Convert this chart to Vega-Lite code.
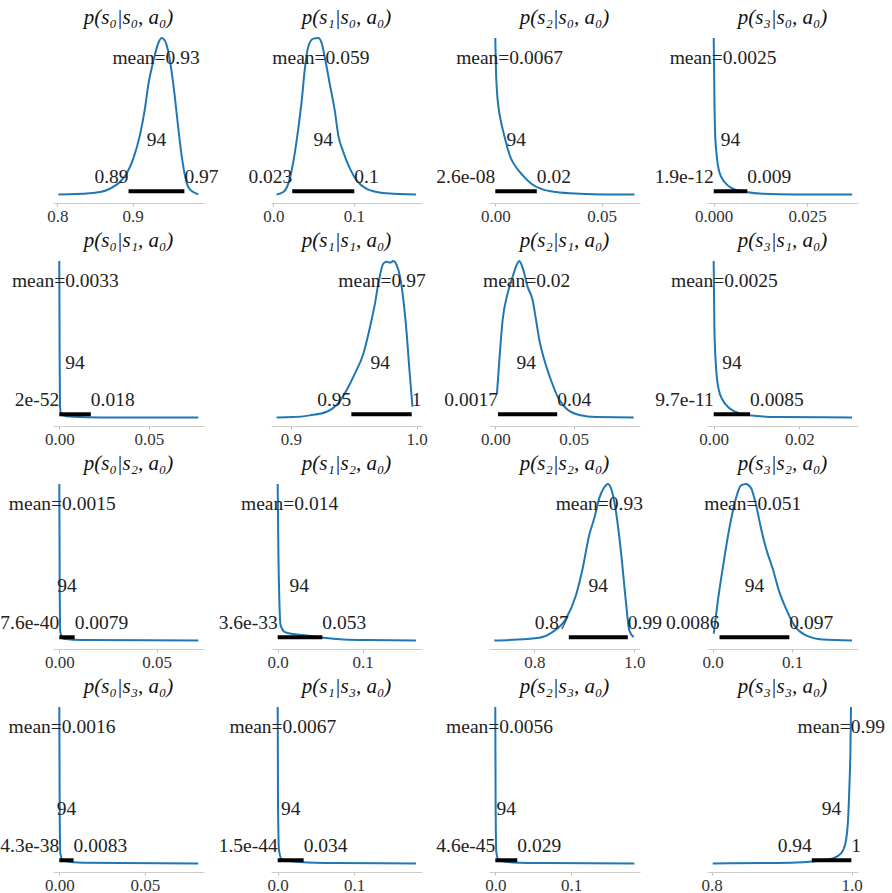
{
"$schema":"https://vega.github.io/schema/vega-lite/v6.json",
"background":"white",
"padding":{"left":0,"top":7,"right":2,"bottom":2},
"columns":4,
"spacing":{"row":58,"column":67},
"bounds":"flush",
"config":{
 "view":{"stroke":null},
 "axis":{"domainColor":"#cccccc","tickColor":"#bbbbbb","tickSize":3,"labelPadding":2,"labelFont":"Liberation Serif","labelFontSize":17,"labelColor":"#333333","grid":false},
 "title":{"font":"Liberation Serif","fontSize":21,"fontStyle":"italic","fontWeight":"normal","color":"#111111","offset":6},
 "text":{"font":"Liberation Serif","fontSize":19.5,"color":"#222222"},
 "line":{"color":"#1f77b4","strokeWidth":2,"interpolate":"monotone"},
 "rule":{"color":"black","strokeWidth":4}
},
"datasets":{
 "curves":[
  {"p":"00","x":0.8013,"y":0},{"p":"00","x":0.8256,"y":0.002},{"p":"00","x":0.8566,"y":0.015},{"p":"00","x":0.8698,"y":0.036},{"p":"00","x":0.8831,"y":0.079},{"p":"00","x":0.892,"y":0.133},{"p":"00","x":0.9008,"y":0.229},{"p":"00","x":0.9096,"y":0.379},{"p":"00","x":0.9163,"y":0.55},{"p":"00","x":0.9207,"y":0.7},{"p":"00","x":0.9273,"y":0.85},{"p":"00","x":0.934,"y":0.968},{"p":"00","x":0.9384,"y":1.0},{"p":"00","x":0.9428,"y":0.983},{"p":"00","x":0.9472,"y":0.914},{"p":"00","x":0.9516,"y":0.786},{"p":"00","x":0.9561,"y":0.615},{"p":"00","x":0.9605,"y":0.422},{"p":"00","x":0.9649,"y":0.25},{"p":"00","x":0.9693,"y":0.122},{"p":"00","x":0.9737,"y":0.047},{"p":"00","x":0.9804,"y":0.015},{"p":"00","x":0.987,"y":0},
  {"p":"01","x":0.0041,"y":0},{"p":"01","x":0.0124,"y":0.015},{"p":"01","x":0.0186,"y":0.069},{"p":"01","x":0.0248,"y":0.208},{"p":"01","x":0.031,"y":0.422},{"p":"01","x":0.0351,"y":0.593},{"p":"01","x":0.0392,"y":0.807},{"p":"01","x":0.0434,"y":0.946},{"p":"01","x":0.0496,"y":0.996},{"p":"01","x":0.0558,"y":1.0},{"p":"01","x":0.0599,"y":0.968},{"p":"01","x":0.064,"y":0.872},{"p":"01","x":0.0702,"y":0.7},{"p":"01","x":0.0764,"y":0.529},{"p":"01","x":0.0805,"y":0.379},{"p":"01","x":0.0867,"y":0.272},{"p":"01","x":0.095,"y":0.165},{"p":"01","x":0.1033,"y":0.09},{"p":"01","x":0.1157,"y":0.036},{"p":"01","x":0.1363,"y":0.009},{"p":"01","x":0.157,"y":0.002},{"p":"01","x":0.1768,"y":0},
  {"p":"02","x":0,"y":1},{"p":"02","x":0.0003,"y":0.804},{"p":"02","x":0.0008,"y":0.655},{"p":"02","x":0.0016,"y":0.548},{"p":"02","x":0.0027,"y":0.463},{"p":"02","x":0.0042,"y":0.377},{"p":"02","x":0.0058,"y":0.292},{"p":"02","x":0.0074,"y":0.228},{"p":"02","x":0.0097,"y":0.175},{"p":"02","x":0.0129,"y":0.122},{"p":"02","x":0.0176,"y":0.062},{"p":"02","x":0.0223,"y":0.032},{"p":"02","x":0.0285,"y":0.015},{"p":"02","x":0.0395,"y":0.004},{"p":"02","x":0.052,"y":0},{"p":"02","x":0.0654,"y":0},
  {"p":"03","x":0,"y":1},{"p":"03","x":0.0002,"y":0.59},{"p":"03","x":0.0004,"y":0.377},{"p":"03","x":0.0008,"y":0.249},{"p":"03","x":0.0015,"y":0.143},{"p":"03","x":0.0029,"y":0.079},{"p":"03","x":0.0051,"y":0.036},{"p":"03","x":0.0087,"y":0.015},{"p":"03","x":0.0131,"y":0.004},{"p":"03","x":0.022,"y":0},{"p":"03","x":0.0371,"y":0},
  {"p":"10","x":0,"y":1},{"p":"10","x":0.0002,"y":0.366},{"p":"10","x":0.0004,"y":0.068},{"p":"10","x":0.0013,"y":0.015},{"p":"10","x":0.0078,"y":0.004},{"p":"10","x":0.0227,"y":0},{"p":"10","x":0.0775,"y":0},
  {"p":"11","x":0.8886,"y":0},{"p":"11","x":0.9019,"y":0.002},{"p":"11","x":0.9151,"y":0.013},{"p":"11","x":0.9284,"y":0.036},{"p":"11","x":0.9363,"y":0.079},{"p":"11","x":0.9443,"y":0.175},{"p":"11","x":0.9509,"y":0.281},{"p":"11","x":0.9576,"y":0.409},{"p":"11","x":0.9629,"y":0.58},{"p":"11","x":0.9668,"y":0.729},{"p":"11","x":0.9695,"y":0.857},{"p":"11","x":0.9735,"y":0.985},{"p":"11","x":0.9761,"y":0.996},{"p":"11","x":0.9788,"y":0.989},{"p":"11","x":0.9814,"y":1.0},{"p":"11","x":0.9841,"y":0.974},{"p":"11","x":0.9867,"y":0.9},{"p":"11","x":0.9894,"y":0.75},{"p":"11","x":0.992,"y":0.537},{"p":"11","x":0.9942,"y":0.303},{"p":"11","x":0.9966,"y":0.068},
  {"p":"12","x":0.0011,"y":0.154},{"p":"12","x":0.0026,"y":0.367},{"p":"12","x":0.0047,"y":0.623},{"p":"12","x":0.0079,"y":0.793},{"p":"12","x":0.0111,"y":0.9},{"p":"12","x":0.0136,"y":0.974},{"p":"12","x":0.0153,"y":1.0},{"p":"12","x":0.0179,"y":0.942},{"p":"12","x":0.0206,"y":0.836},{"p":"12","x":0.0238,"y":0.751},{"p":"12","x":0.026,"y":0.623},{"p":"12","x":0.0281,"y":0.495},{"p":"12","x":0.0313,"y":0.367},{"p":"12","x":0.0355,"y":0.239},{"p":"12","x":0.0398,"y":0.132},{"p":"12","x":0.0451,"y":0.058},{"p":"12","x":0.0536,"y":0.015},{"p":"12","x":0.0643,"y":0.002},{"p":"12","x":0.0883,"y":0},
  {"p":"13","x":0,"y":1},{"p":"13","x":0.00016,"y":0.58},{"p":"13","x":0.00054,"y":0.324},{"p":"13","x":0.0012,"y":0.175},{"p":"13","x":0.0021,"y":0.111},{"p":"13","x":0.0037,"y":0.058},{"p":"13","x":0.006,"y":0.026},{"p":"13","x":0.0099,"y":0.009},{"p":"13","x":0.0153,"y":0.002},{"p":"13","x":0.0323,"y":0},
  {"p":"20","x":0,"y":1},{"p":"20","x":0.0002,"y":0.35},{"p":"20","x":0.0005,"y":0.053},{"p":"20","x":0.0021,"y":0.011},{"p":"20","x":0.0123,"y":0.002},{"p":"20","x":0.0714,"y":0},
  {"p":"21","x":0,"y":1},{"p":"21","x":0.0008,"y":0.566},{"p":"21","x":0.002,"y":0.246},{"p":"21","x":0.0035,"y":0.096},{"p":"21","x":0.0086,"y":0.053},{"p":"21","x":0.0184,"y":0.041},{"p":"21","x":0.0341,"y":0.032},{"p":"21","x":0.0537,"y":0.017},{"p":"21","x":0.0773,"y":0.006},{"p":"21","x":0.1047,"y":0.002},{"p":"21","x":0.1627,"y":0},
  {"p":"22","x":0.72,"y":0},{"p":"22","x":0.7567,"y":0.004},{"p":"22","x":0.81,"y":0.017},{"p":"22","x":0.8367,"y":0.054},{"p":"22","x":0.8633,"y":0.139},{"p":"22","x":0.8833,"y":0.289},{"p":"22","x":0.8967,"y":0.46},{"p":"22","x":0.91,"y":0.675},{"p":"22","x":0.92,"y":0.782},{"p":"22","x":0.93,"y":0.91},{"p":"22","x":0.94,"y":0.979},{"p":"22","x":0.9467,"y":1.0},{"p":"22","x":0.9533,"y":0.974},{"p":"22","x":0.9633,"y":0.824},{"p":"22","x":0.9733,"y":0.567},{"p":"22","x":0.9833,"y":0.246},{"p":"22","x":0.99,"y":0.064},{"p":"22","x":0.9987,"y":0.021},
  {"p":"23","x":0.0013,"y":0.043},{"p":"23","x":0.0063,"y":0.246},{"p":"23","x":0.0126,"y":0.46},{"p":"23","x":0.021,"y":0.717},{"p":"23","x":0.0294,"y":0.91},{"p":"23","x":0.0357,"y":0.991},{"p":"23","x":0.042,"y":1.0},{"p":"23","x":0.0483,"y":0.974},{"p":"23","x":0.0546,"y":0.867},{"p":"23","x":0.0609,"y":0.717},{"p":"23","x":0.0672,"y":0.589},{"p":"23","x":0.0756,"y":0.46},{"p":"23","x":0.084,"y":0.31},{"p":"23","x":0.0924,"y":0.203},{"p":"23","x":0.1029,"y":0.096},{"p":"23","x":0.1176,"y":0.032},{"p":"23","x":0.1387,"y":0.006},{"p":"23","x":0.1756,"y":0},
  {"p":"30","x":0,"y":1},{"p":"30","x":0.0002,"y":0.385},{"p":"30","x":0.0006,"y":0.064},{"p":"30","x":0.0023,"y":0.017},{"p":"30","x":0.014,"y":0.004},{"p":"30","x":0.0811,"y":0},
  {"p":"31","x":0,"y":1},{"p":"31","x":0.0004,"y":0.385},{"p":"31","x":0.0017,"y":0.085},{"p":"31","x":0.0052,"y":0.026},{"p":"31","x":0.0293,"y":0.009},{"p":"31","x":0.0729,"y":0.002},{"p":"31","x":0.1812,"y":0},
  {"p":"32","x":0,"y":1},{"p":"32","x":0.0004,"y":0.385},{"p":"32","x":0.0013,"y":0.075},{"p":"32","x":0.0044,"y":0.021},{"p":"32","x":0.0229,"y":0.006},{"p":"32","x":0.067,"y":0.002},{"p":"32","x":0.1837,"y":0},
  {"p":"33","x":0.8014,"y":0},{"p":"33","x":0.8729,"y":0.002},{"p":"33","x":0.9205,"y":0.006},{"p":"33","x":0.9538,"y":0.017},{"p":"33","x":0.9729,"y":0.032},{"p":"33","x":0.9848,"y":0.064},{"p":"33","x":0.991,"y":0.128},{"p":"33","x":0.9948,"y":0.278},{"p":"33","x":0.9967,"y":0.491},{"p":"33","x":0.9981,"y":0.705},{"p":"33","x":0.999,"y":1.0}
 ]
},
"concat":[
 {"title":"p(s₀|s₀, a₀)","width":151,"height":165,"data":{"values":[{"mean":0.931,"ml":"mean=0.93","lo":0.8945,"hi":0.9686,"lt":"0.89","ht":"0.97","mid":0.9316}]},"layer":[
  {"data":{"name":"curves"},"transform":[{"filter":"datum.p==='00'"}],"mark":"line","encoding":{"x":{"field":"x","type":"quantitative","scale":{"domain":[0.7943,0.9946],"nice":false,"zero":false},"axis":{"values":[0.8,0.9],"format":".1f","title":null}},"y":{"field":"y","type":"quantitative","scale":{"domain":[-0.055,1],"nice":false,"zero":false},"axis":null}}},
  {"mark":"rule","encoding":{"x":{"field":"lo","type":"quantitative"},"x2":{"field":"hi"},"y":{"datum":0.02}}},
  {"mark":{"type":"text","baseline":"middle"},"encoding":{"x":{"field":"mean","type":"quantitative"},"y":{"datum":0.87},"text":{"field":"ml"}}},
  {"mark":{"type":"text","baseline":"middle"},"encoding":{"x":{"field":"mid","type":"quantitative"},"y":{"datum":0.35},"text":{"value":"94"}}},
  {"mark":{"type":"text","baseline":"middle","align":"right"},"encoding":{"x":{"field":"lo","type":"quantitative"},"y":{"datum":0.11},"text":{"field":"lt"}}},
  {"mark":{"type":"text","baseline":"middle","align":"left"},"encoding":{"x":{"field":"hi","type":"quantitative"},"y":{"datum":0.11},"text":{"field":"ht"}}}
 ]},
 {"title":"p(s₁|s₀, a₀)","width":151,"height":165,"data":{"values":[{"mean":0.059,"ml":"mean=0.059","lo":0.0235,"hi":0.1004,"lt":"0.023","ht":"0.1","mid":0.062}]},"layer":[
  {"data":{"name":"curves"},"transform":[{"filter":"datum.p==='01'"}],"mark":"line","encoding":{"x":{"field":"x","type":"quantitative","scale":{"domain":[-0.00285,0.1843],"nice":false,"zero":false},"axis":{"values":[0,0.1],"format":".1f","title":null}},"y":{"field":"y","type":"quantitative","scale":{"domain":[-0.055,1],"nice":false,"zero":false},"axis":null}}},
  {"mark":"rule","encoding":{"x":{"field":"lo","type":"quantitative"},"x2":{"field":"hi"},"y":{"datum":0.02}}},
  {"mark":{"type":"text","baseline":"middle"},"encoding":{"x":{"field":"mean","type":"quantitative"},"y":{"datum":0.87},"text":{"field":"ml"}}},
  {"mark":{"type":"text","baseline":"middle"},"encoding":{"x":{"field":"mid","type":"quantitative"},"y":{"datum":0.35},"text":{"value":"94"}}},
  {"mark":{"type":"text","baseline":"middle","align":"right"},"encoding":{"x":{"field":"lo","type":"quantitative"},"y":{"datum":0.11},"text":{"field":"lt"}}},
  {"mark":{"type":"text","baseline":"middle","align":"left"},"encoding":{"x":{"field":"hi","type":"quantitative"},"y":{"datum":0.11},"text":{"field":"ht"}}}
 ]},
 {"title":"p(s₂|s₀, a₀)","width":151,"height":165,"data":{"values":[{"mean":0.0067,"ml":"mean=0.0067","lo":2.6e-8,"hi":0.0195,"lt":"2.6e-08","ht":"0.02","mid":0.0098}]},"layer":[
  {"data":{"name":"curves"},"transform":[{"filter":"datum.p==='02'"}],"mark":"line","encoding":{"x":{"field":"x","type":"quantitative","scale":{"domain":[-0.00296,0.068],"nice":false,"zero":false},"axis":{"values":[0,0.05],"format":".2f","title":null}},"y":{"field":"y","type":"quantitative","scale":{"domain":[-0.055,1],"nice":false,"zero":false},"axis":null}}},
  {"mark":"rule","encoding":{"x":{"field":"lo","type":"quantitative"},"x2":{"field":"hi"},"y":{"datum":0.02}}},
  {"mark":{"type":"text","baseline":"middle"},"encoding":{"x":{"field":"mean","type":"quantitative"},"y":{"datum":0.87},"text":{"field":"ml"}}},
  {"mark":{"type":"text","baseline":"middle"},"encoding":{"x":{"field":"mid","type":"quantitative"},"y":{"datum":0.35},"text":{"value":"94"}}},
  {"mark":{"type":"text","baseline":"middle","align":"right"},"encoding":{"x":{"field":"lo","type":"quantitative"},"y":{"datum":0.11},"text":{"field":"lt"}}},
  {"mark":{"type":"text","baseline":"middle","align":"left"},"encoding":{"x":{"field":"hi","type":"quantitative"},"y":{"datum":0.11},"text":{"field":"ht"}}}
 ]},
 {"title":"p(s₃|s₀, a₀)","width":151,"height":165,"data":{"values":[{"mean":0.0025,"ml":"mean=0.0025","lo":1.9e-12,"hi":0.009,"lt":"1.9e-12","ht":"0.009","mid":0.0045}]},"layer":[
  {"data":{"name":"curves"},"transform":[{"filter":"datum.p==='03'"}],"mark":"line","encoding":{"x":{"field":"x","type":"quantitative","scale":{"domain":[-0.0018,0.03866],"nice":false,"zero":false},"axis":{"values":[0,0.025],"format":".3f","title":null}},"y":{"field":"y","type":"quantitative","scale":{"domain":[-0.055,1],"nice":false,"zero":false},"axis":null}}},
  {"mark":"rule","encoding":{"x":{"field":"lo","type":"quantitative"},"x2":{"field":"hi"},"y":{"datum":0.02}}},
  {"mark":{"type":"text","baseline":"middle"},"encoding":{"x":{"field":"mean","type":"quantitative"},"y":{"datum":0.87},"text":{"field":"ml"}}},
  {"mark":{"type":"text","baseline":"middle"},"encoding":{"x":{"field":"mid","type":"quantitative"},"y":{"datum":0.35},"text":{"value":"94"}}},
  {"mark":{"type":"text","baseline":"middle","align":"right"},"encoding":{"x":{"field":"lo","type":"quantitative"},"y":{"datum":0.11},"text":{"field":"lt"}}},
  {"mark":{"type":"text","baseline":"middle","align":"left"},"encoding":{"x":{"field":"hi","type":"quantitative"},"y":{"datum":0.11},"text":{"field":"ht"}}}
 ]},
 {"title":"p(s₀|s₁, a₀)","width":151,"height":165,"data":{"values":[{"mean":0.0034,"ml":"mean=0.0033","lo":2e-52,"hi":0.0176,"lt":"2e-52","ht":"0.018","mid":0.0088}]},"layer":[
  {"data":{"name":"curves"},"transform":[{"filter":"datum.p==='10'"}],"mark":"line","encoding":{"x":{"field":"x","type":"quantitative","scale":{"domain":[-0.0035,0.0807],"nice":false,"zero":false},"axis":{"values":[0,0.05],"format":".2f","title":null}},"y":{"field":"y","type":"quantitative","scale":{"domain":[-0.055,1],"nice":false,"zero":false},"axis":null}}},
  {"mark":"rule","encoding":{"x":{"field":"lo","type":"quantitative"},"x2":{"field":"hi"},"y":{"datum":0.02}}},
  {"mark":{"type":"text","baseline":"middle"},"encoding":{"x":{"field":"mean","type":"quantitative"},"y":{"datum":0.87},"text":{"field":"ml"}}},
  {"mark":{"type":"text","baseline":"middle"},"encoding":{"x":{"field":"mid","type":"quantitative"},"y":{"datum":0.35},"text":{"value":"94"}}},
  {"mark":{"type":"text","baseline":"middle","align":"right"},"encoding":{"x":{"field":"lo","type":"quantitative"},"y":{"datum":0.11},"text":{"field":"lt"}}},
  {"mark":{"type":"text","baseline":"middle","align":"left"},"encoding":{"x":{"field":"hi","type":"quantitative"},"y":{"datum":0.11},"text":{"field":"ht"}}}
 ]},
 {"title":"p(s₁|s₁, a₀)","width":151,"height":165,"data":{"values":[{"mean":0.9724,"ml":"mean=0.97","lo":0.948,"hi":0.996,"lt":"0.95","ht":"1","mid":0.971}]},"layer":[
  {"data":{"name":"curves"},"transform":[{"filter":"datum.p==='11'"}],"mark":"line","encoding":{"x":{"field":"x","type":"quantitative","scale":{"domain":[0.8841,1.0042],"nice":false,"zero":false},"axis":{"values":[0.9,1.0],"format":".1f","title":null}},"y":{"field":"y","type":"quantitative","scale":{"domain":[-0.055,1],"nice":false,"zero":false},"axis":null}}},
  {"mark":"rule","encoding":{"x":{"field":"lo","type":"quantitative"},"x2":{"field":"hi"},"y":{"datum":0.02}}},
  {"mark":{"type":"text","baseline":"middle"},"encoding":{"x":{"field":"mean","type":"quantitative"},"y":{"datum":0.87},"text":{"field":"ml"}}},
  {"mark":{"type":"text","baseline":"middle"},"encoding":{"x":{"field":"mid","type":"quantitative"},"y":{"datum":0.35},"text":{"value":"94"}}},
  {"mark":{"type":"text","baseline":"middle","align":"right"},"encoding":{"x":{"field":"lo","type":"quantitative"},"y":{"datum":0.11},"text":{"field":"lt"}}},
  {"mark":{"type":"text","baseline":"middle","align":"left"},"encoding":{"x":{"field":"hi","type":"quantitative"},"y":{"datum":0.11},"text":{"field":"ht"}}}
 ]},
 {"title":"p(s₂|s₁, a₀)","width":151,"height":165,"data":{"values":[{"mean":0.02,"ml":"mean=0.02","lo":0.0017,"hi":0.0395,"lt":"0.0017","ht":"0.04","mid":0.0198}]},"layer":[
  {"data":{"name":"curves"},"transform":[{"filter":"datum.p==='12'"}],"mark":"line","encoding":{"x":{"field":"x","type":"quantitative","scale":{"domain":[-0.004,0.0923],"nice":false,"zero":false},"axis":{"values":[0,0.05],"format":".2f","title":null}},"y":{"field":"y","type":"quantitative","scale":{"domain":[-0.055,1],"nice":false,"zero":false},"axis":null}}},
  {"mark":"rule","encoding":{"x":{"field":"lo","type":"quantitative"},"x2":{"field":"hi"},"y":{"datum":0.02}}},
  {"mark":{"type":"text","baseline":"middle"},"encoding":{"x":{"field":"mean","type":"quantitative"},"y":{"datum":0.87},"text":{"field":"ml"}}},
  {"mark":{"type":"text","baseline":"middle"},"encoding":{"x":{"field":"mid","type":"quantitative"},"y":{"datum":0.35},"text":{"value":"94"}}},
  {"mark":{"type":"text","baseline":"middle","align":"right"},"encoding":{"x":{"field":"lo","type":"quantitative"},"y":{"datum":0.11},"text":{"field":"lt"}}},
  {"mark":{"type":"text","baseline":"middle","align":"left"},"encoding":{"x":{"field":"hi","type":"quantitative"},"y":{"datum":0.11},"text":{"field":"ht"}}}
 ]},
 {"title":"p(s₃|s₁, a₀)","width":151,"height":165,"data":{"values":[{"mean":0.0025,"ml":"mean=0.0025","lo":9.7e-11,"hi":0.0085,"lt":"9.7e-11","ht":"0.0085","mid":0.00425}]},"layer":[
  {"data":{"name":"curves"},"transform":[{"filter":"datum.p==='13'"}],"mark":"line","encoding":{"x":{"field":"x","type":"quantitative","scale":{"domain":[-0.00156,0.0337],"nice":false,"zero":false},"axis":{"values":[0,0.02],"format":".2f","title":null}},"y":{"field":"y","type":"quantitative","scale":{"domain":[-0.055,1],"nice":false,"zero":false},"axis":null}}},
  {"mark":"rule","encoding":{"x":{"field":"lo","type":"quantitative"},"x2":{"field":"hi"},"y":{"datum":0.02}}},
  {"mark":{"type":"text","baseline":"middle"},"encoding":{"x":{"field":"mean","type":"quantitative"},"y":{"datum":0.87},"text":{"field":"ml"}}},
  {"mark":{"type":"text","baseline":"middle"},"encoding":{"x":{"field":"mid","type":"quantitative"},"y":{"datum":0.35},"text":{"value":"94"}}},
  {"mark":{"type":"text","baseline":"middle","align":"right"},"encoding":{"x":{"field":"lo","type":"quantitative"},"y":{"datum":0.11},"text":{"field":"lt"}}},
  {"mark":{"type":"text","baseline":"middle","align":"left"},"encoding":{"x":{"field":"hi","type":"quantitative"},"y":{"datum":0.11},"text":{"field":"ht"}}}
 ]},
 {"title":"p(s₀|s₂, a₀)","width":151,"height":165,"data":{"values":[{"mean":0.0015,"ml":"mean=0.0015","lo":7.6e-40,"hi":0.0079,"lt":"7.6e-40","ht":"0.0079","mid":0.004}]},"layer":[
  {"data":{"name":"curves"},"transform":[{"filter":"datum.p==='20'"}],"mark":"line","encoding":{"x":{"field":"x","type":"quantitative","scale":{"domain":[-0.00324,0.0743],"nice":false,"zero":false},"axis":{"values":[0,0.05],"format":".2f","title":null}},"y":{"field":"y","type":"quantitative","scale":{"domain":[-0.055,1],"nice":false,"zero":false},"axis":null}}},
  {"mark":"rule","encoding":{"x":{"field":"lo","type":"quantitative"},"x2":{"field":"hi"},"y":{"datum":0.02}}},
  {"mark":{"type":"text","baseline":"middle"},"encoding":{"x":{"field":"mean","type":"quantitative"},"y":{"datum":0.87},"text":{"field":"ml"}}},
  {"mark":{"type":"text","baseline":"middle"},"encoding":{"x":{"field":"mid","type":"quantitative"},"y":{"datum":0.35},"text":{"value":"94"}}},
  {"mark":{"type":"text","baseline":"middle","align":"right"},"encoding":{"x":{"field":"lo","type":"quantitative"},"y":{"datum":0.11},"text":{"field":"lt"}}},
  {"mark":{"type":"text","baseline":"middle","align":"left"},"encoding":{"x":{"field":"hi","type":"quantitative"},"y":{"datum":0.11},"text":{"field":"ht"}}}
 ]},
 {"title":"p(s₁|s₂, a₀)","width":151,"height":165,"data":{"values":[{"mean":0.014,"ml":"mean=0.014","lo":3.6e-33,"hi":0.0525,"lt":"3.6e-33","ht":"0.053","mid":0.0255}]},"layer":[
  {"data":{"name":"curves"},"transform":[{"filter":"datum.p==='21'"}],"mark":"line","encoding":{"x":{"field":"x","type":"quantitative","scale":{"domain":[-0.00788,0.1698],"nice":false,"zero":false},"axis":{"values":[0,0.1],"format":".1f","title":null}},"y":{"field":"y","type":"quantitative","scale":{"domain":[-0.055,1],"nice":false,"zero":false},"axis":null}}},
  {"mark":"rule","encoding":{"x":{"field":"lo","type":"quantitative"},"x2":{"field":"hi"},"y":{"datum":0.02}}},
  {"mark":{"type":"text","baseline":"middle"},"encoding":{"x":{"field":"mean","type":"quantitative"},"y":{"datum":0.87},"text":{"field":"ml"}}},
  {"mark":{"type":"text","baseline":"middle"},"encoding":{"x":{"field":"mid","type":"quantitative"},"y":{"datum":0.35},"text":{"value":"94"}}},
  {"mark":{"type":"text","baseline":"middle","align":"right"},"encoding":{"x":{"field":"lo","type":"quantitative"},"y":{"datum":0.11},"text":{"field":"lt"}}},
  {"mark":{"type":"text","baseline":"middle","align":"left"},"encoding":{"x":{"field":"hi","type":"quantitative"},"y":{"datum":0.11},"text":{"field":"ht"}}}
 ]},
 {"title":"p(s₂|s₂, a₀)","width":151,"height":165,"data":{"values":[{"mean":0.93,"ml":"mean=0.93","lo":0.869,"hi":0.987,"lt":"0.87","ht":"0.99","mid":0.928}]},"layer":[
  {"data":{"name":"curves"},"transform":[{"filter":"datum.p==='22'"}],"mark":"line","encoding":{"x":{"field":"x","type":"quantitative","scale":{"domain":[0.7094,1.0114],"nice":false,"zero":false},"axis":{"values":[0.8,1.0],"format":".1f","title":null}},"y":{"field":"y","type":"quantitative","scale":{"domain":[-0.055,1],"nice":false,"zero":false},"axis":null}}},
  {"mark":"rule","encoding":{"x":{"field":"lo","type":"quantitative"},"x2":{"field":"hi"},"y":{"datum":0.02}}},
  {"mark":{"type":"text","baseline":"middle"},"encoding":{"x":{"field":"mean","type":"quantitative"},"y":{"datum":0.87},"text":{"field":"ml"}}},
  {"mark":{"type":"text","baseline":"middle"},"encoding":{"x":{"field":"mid","type":"quantitative"},"y":{"datum":0.35},"text":{"value":"94"}}},
  {"mark":{"type":"text","baseline":"middle","align":"right"},"encoding":{"x":{"field":"lo","type":"quantitative"},"y":{"datum":0.11},"text":{"field":"lt"}}},
  {"mark":{"type":"text","baseline":"middle","align":"left"},"encoding":{"x":{"field":"hi","type":"quantitative"},"y":{"datum":0.11},"text":{"field":"ht"}}}
 ]},
 {"title":"p(s₃|s₂, a₀)","width":151,"height":165,"data":{"values":[{"mean":0.0505,"ml":"mean=0.051","lo":0.0086,"hi":0.0966,"lt":"0.0086","ht":"0.097","mid":0.0526}]},"layer":[
  {"data":{"name":"curves"},"transform":[{"filter":"datum.p==='23'"}],"mark":"line","encoding":{"x":{"field":"x","type":"quantitative","scale":{"domain":[-0.0072,0.1832],"nice":false,"zero":false},"axis":{"values":[0,0.1],"format":".1f","title":null}},"y":{"field":"y","type":"quantitative","scale":{"domain":[-0.055,1],"nice":false,"zero":false},"axis":null}}},
  {"mark":"rule","encoding":{"x":{"field":"lo","type":"quantitative"},"x2":{"field":"hi"},"y":{"datum":0.02}}},
  {"mark":{"type":"text","baseline":"middle"},"encoding":{"x":{"field":"mean","type":"quantitative"},"y":{"datum":0.87},"text":{"field":"ml"}}},
  {"mark":{"type":"text","baseline":"middle"},"encoding":{"x":{"field":"mid","type":"quantitative"},"y":{"datum":0.35},"text":{"value":"94"}}},
  {"mark":{"type":"text","baseline":"middle","align":"right"},"encoding":{"x":{"field":"lo","type":"quantitative"},"y":{"datum":0.11},"text":{"field":"lt"}}},
  {"mark":{"type":"text","baseline":"middle","align":"left"},"encoding":{"x":{"field":"hi","type":"quantitative"},"y":{"datum":0.11},"text":{"field":"ht"}}}
 ]},
 {"title":"p(s₀|s₃, a₀)","width":151,"height":165,"data":{"values":[{"mean":0.0016,"ml":"mean=0.0016","lo":4.3e-38,"hi":0.0083,"lt":"4.3e-38","ht":"0.0083","mid":0.0042}]},"layer":[
  {"data":{"name":"curves"},"transform":[{"filter":"datum.p==='30'"}],"mark":"line","encoding":{"x":{"field":"x","type":"quantitative","scale":{"domain":[-0.00368,0.0845],"nice":false,"zero":false},"axis":{"values":[0,0.05],"format":".2f","title":null}},"y":{"field":"y","type":"quantitative","scale":{"domain":[-0.055,1],"nice":false,"zero":false},"axis":null}}},
  {"mark":"rule","encoding":{"x":{"field":"lo","type":"quantitative"},"x2":{"field":"hi"},"y":{"datum":0.02}}},
  {"mark":{"type":"text","baseline":"middle"},"encoding":{"x":{"field":"mean","type":"quantitative"},"y":{"datum":0.87},"text":{"field":"ml"}}},
  {"mark":{"type":"text","baseline":"middle"},"encoding":{"x":{"field":"mid","type":"quantitative"},"y":{"datum":0.35},"text":{"value":"94"}}},
  {"mark":{"type":"text","baseline":"middle","align":"right"},"encoding":{"x":{"field":"lo","type":"quantitative"},"y":{"datum":0.11},"text":{"field":"lt"}}},
  {"mark":{"type":"text","baseline":"middle","align":"left"},"encoding":{"x":{"field":"hi","type":"quantitative"},"y":{"datum":0.11},"text":{"field":"ht"}}}
 ]},
 {"title":"p(s₁|s₃, a₀)","width":151,"height":165,"data":{"values":[{"mean":0.0067,"ml":"mean=0.0067","lo":1.5e-44,"hi":0.034,"lt":"1.5e-44","ht":"0.034","mid":0.017}]},"layer":[
  {"data":{"name":"curves"},"transform":[{"filter":"datum.p==='31'"}],"mark":"line","encoding":{"x":{"field":"x","type":"quantitative","scale":{"domain":[-0.00878,0.1891],"nice":false,"zero":false},"axis":{"values":[0,0.1],"format":".1f","title":null}},"y":{"field":"y","type":"quantitative","scale":{"domain":[-0.055,1],"nice":false,"zero":false},"axis":null}}},
  {"mark":"rule","encoding":{"x":{"field":"lo","type":"quantitative"},"x2":{"field":"hi"},"y":{"datum":0.02}}},
  {"mark":{"type":"text","baseline":"middle"},"encoding":{"x":{"field":"mean","type":"quantitative"},"y":{"datum":0.87},"text":{"field":"ml"}}},
  {"mark":{"type":"text","baseline":"middle"},"encoding":{"x":{"field":"mid","type":"quantitative"},"y":{"datum":0.35},"text":{"value":"94"}}},
  {"mark":{"type":"text","baseline":"middle","align":"right"},"encoding":{"x":{"field":"lo","type":"quantitative"},"y":{"datum":0.11},"text":{"field":"lt"}}},
  {"mark":{"type":"text","baseline":"middle","align":"left"},"encoding":{"x":{"field":"hi","type":"quantitative"},"y":{"datum":0.11},"text":{"field":"ht"}}}
 ]},
 {"title":"p(s₂|s₃, a₀)","width":151,"height":165,"data":{"values":[{"mean":0.0056,"ml":"mean=0.0056","lo":4.6e-45,"hi":0.029,"lt":"4.6e-45","ht":"0.029","mid":0.0145}]},"layer":[
  {"data":{"name":"curves"},"transform":[{"filter":"datum.p==='32'"}],"mark":"line","encoding":{"x":{"field":"x","type":"quantitative","scale":{"domain":[-0.00832,0.1911],"nice":false,"zero":false},"axis":{"values":[0,0.1],"format":".1f","title":null}},"y":{"field":"y","type":"quantitative","scale":{"domain":[-0.055,1],"nice":false,"zero":false},"axis":null}}},
  {"mark":"rule","encoding":{"x":{"field":"lo","type":"quantitative"},"x2":{"field":"hi"},"y":{"datum":0.02}}},
  {"mark":{"type":"text","baseline":"middle"},"encoding":{"x":{"field":"mean","type":"quantitative"},"y":{"datum":0.87},"text":{"field":"ml"}}},
  {"mark":{"type":"text","baseline":"middle"},"encoding":{"x":{"field":"mid","type":"quantitative"},"y":{"datum":0.35},"text":{"value":"94"}}},
  {"mark":{"type":"text","baseline":"middle","align":"right"},"encoding":{"x":{"field":"lo","type":"quantitative"},"y":{"datum":0.11},"text":{"field":"lt"}}},
  {"mark":{"type":"text","baseline":"middle","align":"left"},"encoding":{"x":{"field":"hi","type":"quantitative"},"y":{"datum":0.11},"text":{"field":"ht"}}}
 ]},
 {"title":"p(s₃|s₃, a₀)","width":151,"height":165,"data":{"values":[{"mean":0.985,"ml":"mean=0.99","lo":0.943,"hi":0.9995,"lt":"0.94","ht":"1","mid":0.971}]},"layer":[
  {"data":{"name":"curves"},"transform":[{"filter":"datum.p==='33'"}],"mark":"line","encoding":{"x":{"field":"x","type":"quantitative","scale":{"domain":[0.7933,1.009],"nice":false,"zero":false},"axis":{"values":[0.8,1.0],"format":".1f","title":null}},"y":{"field":"y","type":"quantitative","scale":{"domain":[-0.055,1],"nice":false,"zero":false},"axis":null}}},
  {"mark":"rule","encoding":{"x":{"field":"lo","type":"quantitative"},"x2":{"field":"hi"},"y":{"datum":0.02}}},
  {"mark":{"type":"text","baseline":"middle"},"encoding":{"x":{"field":"mean","type":"quantitative"},"y":{"datum":0.87},"text":{"field":"ml"}}},
  {"mark":{"type":"text","baseline":"middle"},"encoding":{"x":{"field":"mid","type":"quantitative"},"y":{"datum":0.35},"text":{"value":"94"}}},
  {"mark":{"type":"text","baseline":"middle","align":"right"},"encoding":{"x":{"field":"lo","type":"quantitative"},"y":{"datum":0.11},"text":{"field":"lt"}}},
  {"mark":{"type":"text","baseline":"middle","align":"left"},"encoding":{"x":{"field":"hi","type":"quantitative"},"y":{"datum":0.11},"text":{"field":"ht"}}}
 ]}
]
}
